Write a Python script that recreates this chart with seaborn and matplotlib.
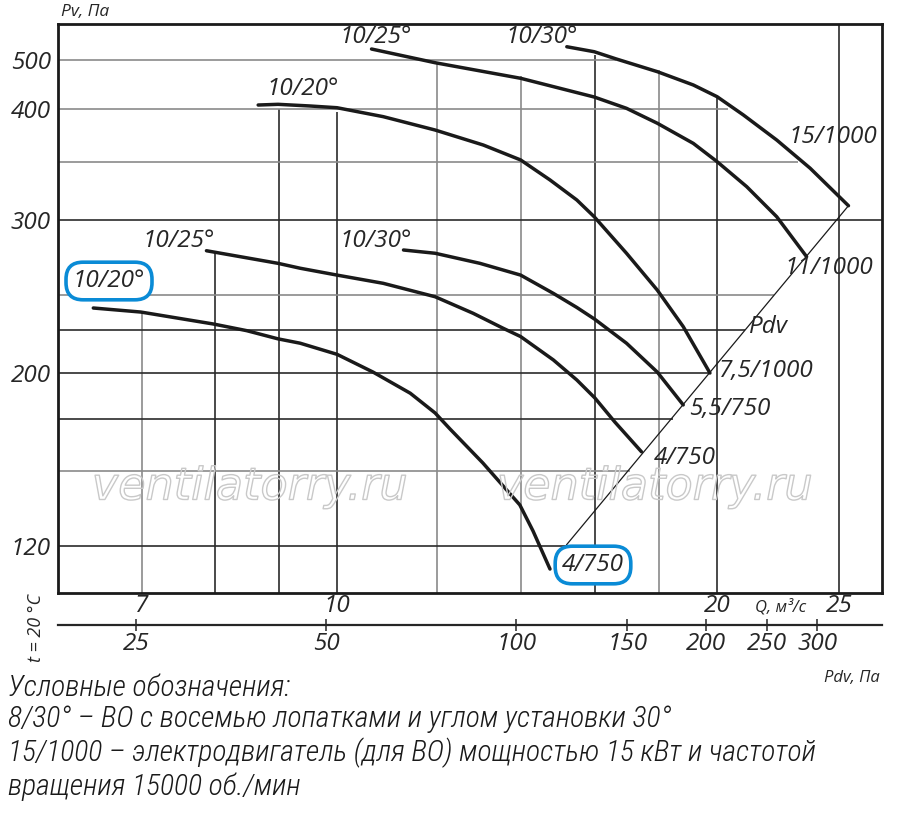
import numpy as np
import matplotlib
matplotlib.use("Agg")
import matplotlib.pyplot as plt
import seaborn as sns
from matplotlib import font_manager
from matplotlib.ticker import NullLocator
import matplotlib.patheffects as pe

# ---- данные: Q, м³/с и Pv, Па для каждой характеристики ----
q_1 = [6.41, 6.99, 7.98, 8.48, 8.98, 9.35, 10.0, 10.68, 11.43, 11.96, 12.29, 13.05, 13.96, 14.30, 14.75]
pv_1 = [240.4, 237.5, 229.1, 224.6, 219.6, 217.0, 210.5, 200.5, 188.6, 178.1, 169.9, 153.6, 135.6, 125.5, 112.4]

q_2 = [7.88, 8.98, 9.35, 10.0, 10.88, 11.96, 12.82, 13.54, 13.98, 14.84, 15.49, 16.01, 16.60, 17.43]
pv_2 = [278.4, 270.0, 266.8, 262.4, 257.2, 248.7, 236.6, 226.2, 221.0, 207.3, 196.0, 186.0, 173.5, 158.8]

q_3 = [11.29, 11.96, 12.98, 13.98, 14.84, 15.49, 16.0, 16.96, 17.94, 18.81]
pv_3 = [278.9, 276.7, 270.0, 262.4, 251.0, 240.8, 232.5, 217.0, 200.5, 182.3]

q_4 = [8.66, 8.98, 9.52, 10.0, 10.88, 11.96, 13.06, 13.98, 14.75, 15.49, 15.99, 16.96, 17.94, 18.81, 19.75]
pv_4 = [406.8, 408.1, 405.0, 401.8, 392.1, 379.2, 365.2, 351.8, 333.7, 316.4, 302.6, 276.7, 253.0, 227.3, 200.0]

q_5 = [10.65, 11.96, 13.98, 15.02, 15.99, 16.96, 17.94, 19.16, 20.01, 21.12, 22.31, 23.56]
pv_5 = [525.9, 493.8, 459.8, 439.2, 422.0, 400.7, 385.7, 366.7, 350.3, 327.8, 302.6, 274.4]

q_6 = [15.21, 15.99, 16.65, 17.94, 19.16, 20.01, 20.99, 22.31, 23.71, 25.43]
pv_6 = [531.4, 519.4, 502.3, 474.0, 445.9, 422.6, 393.8, 369.8, 344.3, 311.6]

# линия динамического давления Pdv (концы характеристик)
q_pdv = [15.2, 25.43]
pv_pdv = [120.4, 311.6]

# шкалы
q_ticks = [7, 10, 20, 25]
pv_ticks = [120, 200, 300, 400, 500]
pdv_ticks = [25, 50, 100, 150, 200, 250, 300]
pdv_coef = 0.52          # Pdv = k * Q^2

# сетка
grid_q = [7, 8, 9, 10, 12, 14, 16, 18, 20, 25]
grid_q_top = [237.5, 276.9, 400, 396.7, 495.4, 464.7, 511.6, 477.7, 420.1, 590]
grid_pv = [500, 400, 350, 300, 250, 225, 200, 175, 150, 120]
grid_pv_end = [16.65, 20.41, 23.19, 27.02, 22.19, 21.05, 19.71, 18.46, 17.07, 15.2]

# неравномерная шкала давления (значение -> положение)
scale_pv = [105, 120, 150, 175, 200, 225, 250, 300, 350, 400, 500, 590]
scale_pos = [0, 47, 122, 174, 220, 263, 298, 373, 431, 484.3, 533, 569]

W, H = 900, 815
DARK, GREY = "#2b2b2b", "#8a8a8a"
BLUE = "#0a8bd6"

sns.set_style("white")
fonts = font_manager.fontManager.ttflist
if any(f.name == "Open Sans" and f.style == "italic" for f in fonts):
    main_font, fs = "Open Sans", 17.5
else:
    main_font, fs = "DejaVu Sans", 16
names = {f.name for f in fonts}
narrow = next((n for n in ["Roboto Condensed", "Liberation Sans Narrow", "Open Sans Condensed"]
               if n in names), "DejaVu Sans")
plt.rcParams["font.family"] = [main_font, "DejaVu Sans"]
plt.rcParams["font.style"] = "italic"


def fx(x):
    return x / W


def fy(y):
    return 1 - y / H


fig = plt.figure(figsize=(9, 8.15), dpi=100)
ax = fig.add_axes([fx(58), fy(593), (881.7 - 58) / W, (593 - 24) / H])

# сетка
for q, top, c in zip(grid_q, grid_q_top,
                     [GREY, DARK, DARK, DARK, GREY, GREY, DARK, GREY, DARK, DARK]):
    ax.vlines(q, 105, top, color=c, lw=1.2, zorder=1)
for p, end, c in zip(grid_pv, grid_pv_end,
                     [GREY, GREY, GREY, DARK, GREY, DARK, DARK, DARK, GREY, DARK]):
    ax.hlines(p, 6.01, end, color=c, lw=1.2, zorder=1)

# характеристики
for q, pv in [(q_1, pv_1), (q_2, pv_2), (q_3, pv_3), (q_4, pv_4), (q_5, pv_5), (q_6, pv_6)]:
    sns.lineplot(x=q, y=pv, ax=ax, color="#1a1a1a", lw=2.5, sort=False,
                 estimator=None, zorder=3, solid_joinstyle="round")
sns.lineplot(x=q_pdv, y=pv_pdv, ax=ax, color="#1a1a1a", lw=0.9, sort=False,
             estimator=None, zorder=3)

lp, lpos = np.log10(scale_pv), np.array(scale_pos, dtype=float)


def fwd(v):
    return np.interp(np.log10(np.clip(v, 1e-6, None)), lp, lpos)


def inv(p):
    return 10 ** np.interp(p, lpos, lp)


ax.set_xscale("log")
ax.set_yscale("function", functions=(fwd, inv))
ax.set_xlim(6.01, 27.02)
ax.set_ylim(105, 590)
ax.set(xlabel="", ylabel="")

ax.set_xticks(q_ticks, [str(t) for t in q_ticks])
ax.set_yticks(pv_ticks, [str(t) for t in pv_ticks])
ax.xaxis.set_minor_locator(NullLocator())
ax.yaxis.set_minor_locator(NullLocator())
ax.tick_params(axis="x", length=0, pad=1, labelsize=fs)
ax.tick_params(axis="y", length=0, pad=5, labelsize=fs)
for s in ax.spines.values():
    s.set_linewidth(2)
    s.set_color("#1a1a1a")

# шкала Pdv
sec = ax.secondary_xaxis(-32 / 569, functions=(lambda q: pdv_coef * q ** 2,
                                               lambda p: np.sqrt(np.clip(p, 1e-6, None) / pdv_coef)))
sec.set_xticks(pdv_ticks, [str(t) for t in pdv_ticks])
sec.xaxis.set_minor_locator(NullLocator())
sec.tick_params(axis="x", direction="inout", length=8, width=1.1, pad=1, labelsize=fs)
sec.spines["bottom"].set_linewidth(1.6)

# подписи кривых
labels = [
    ("10/25°", 376, 37), ("10/30°", 542, 37), ("10/20°", 303, 89),
    ("10/25°", 179, 241), ("10/30°", 376, 241),
    ("15/1000", 833, 137), ("11/1000", 829, 268), ("Pdv", 768, 327),
    ("7,5/1000", 766, 371), ("5,5/750", 730, 409), ("4/750", 685, 458),
]
for t, x, y in labels:
    fig.text(fx(x), fy(y), t, ha="center", va="center", fontsize=fs, zorder=5)
for t, x, y in [("10/20°", 109, 281), ("4/750", 593, 565)]:
    fig.text(fx(x), fy(y), t, ha="center", va="center", fontsize=fs, zorder=5,
             bbox=dict(boxstyle="round,pad=0.28,rounding_size=0.7", fc="white",
                       ec=BLUE, lw=2.6))

# водяные знаки
for x in (250, 655):
    fig.text(fx(x), fy(487), "ventilatorry.ru", ha="center", va="center",
             fontsize=32, family="DejaVu Sans", style="oblique",
             color=(1, 1, 1, 0), zorder=2,
             path_effects=[pe.Stroke(linewidth=1.0, foreground="#c9c9c9")])

# подписи осей
fig.text(fx(85), fy(12), "Pv, Па", ha="center", va="center", fontsize=12.5)
fig.text(fx(781), fy(607), "Q, м³/с", ha="center", va="center", fontsize=12)
fig.text(fx(852), fy(678), "Pdv, Па", ha="center", va="center", fontsize=12)
fig.text(fx(36), fy(628), "t = 20 °C", ha="center", va="center", fontsize=13,
         rotation=90)

# условные обозначения
legend_lines = [
    "Условные обозначения:",
    "8/30° – ВО с восемью лопатками и углом установки 30°",
    "15/1000 – электродвигатель (для ВО) мощностью 15 кВт и частотой",
    "вращения 15000 об./мин",
]
base = [696, 727, 761, 795]
stretch = "condensed" if narrow == "DejaVu Sans" else "normal"
texts = [fig.text(fx(8), fy(b), s, ha="left", va="baseline", fontsize=16,
                  family=[narrow, "DejaVu Sans"], fontstretch=stretch,
                  fontweight="light", color="#1a1a1a")
         for s, b in zip(legend_lines, base)]
r = fig.canvas.get_renderer()
w = texts[2].get_window_extent(r).width
for t in texts:
    t.set_fontsize(16 * 810 / w)

fig.savefig("out.png", dpi=100)
